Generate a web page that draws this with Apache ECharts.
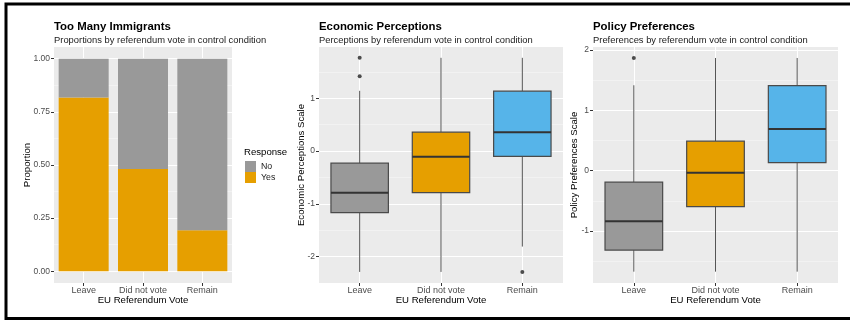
<!DOCTYPE html>
<html>
<head>
<meta charset="utf-8">
<title>EU referendum vote: immigration, economic perceptions and policy preferences</title>
<script src="https://cdn.jsdelivr.net/npm/echarts@6/dist/echarts.min.js"></script>
<style>
  html, body { margin: 0; padding: 0; background: #ffffff; }
  #chart { width: 850px; height: 320px; }
</style>
</head>
<body>
<div id="chart"></div>
<script>
// ---- data ----
const voteCats = ['Leave', 'Did not vote', 'Remain'];

// "Too many immigrants" response shares (control condition)
const yesShare = [0.817, 0.481, 0.193];
const noShare = [0.183, 0.519, 0.807];
const propTicks = [0, 0.25, 0.5, 0.75, 1];
const propTickLabels = ['0.00', '0.25', '0.50', '0.75', '1.00'];

// Box statistics per vote group: [lower whisker, Q1, median, Q3, upper whisker]
const econLeave = [-2.29, -1.166, -0.79, -0.23, 1.14];
const econDidNotVote = [-2.29, -0.79, -0.11, 0.356, 1.765];
const econRemain = [-1.81, -0.10, 0.356, 1.134, 1.765];
const econOutliers = [[0, 1.765], [0, 1.415], [2, -2.29]];
const econTicks = [-2, -1, 0, 1];

const policyLeave = [-1.672, -1.315, -0.836, -0.19, 1.416];
const policyDidNotVote = [-1.672, -0.596, -0.033, 0.49, 1.868];
const policyRemain = [-1.672, 0.134, 0.69, 1.41, 1.868];
const policyOutliers = [[0, 1.868]];
const policyTicks = [-1, 0, 1, 2];

// ---- styling ----
const FONT = '"Liberation Sans", Arial, Helvetica, sans-serif';
const PANEL_BG = '#EBEBEB';
const TICK_TXT = '#4D4D4D';
const boxFill = ['#999999', '#E69F00', '#56B4E9'];

const chart = echarts.init(document.getElementById('chart'), null, { renderer: 'canvas' });

const panels = [
  { left: 54, width: 178 },
  { left: 319, width: 244 },
  { left: 593, width: 245 }
];
const TOP = 47, HEIGHT = 236;

// minor breaks halfway between majors
function minorOf(ticks) {
  const out = [];
  for (let i = 0; i < ticks.length - 1; i++) out.push((ticks[i] + ticks[i + 1]) / 2);
  return out;
}
function withEnds(ticks, step) {
  return [ticks[0] - step / 2].concat(minorOf(ticks), [ticks[ticks.length - 1] + step / 2]);
}

const yRanges = [
  { min: -0.055, max: 1.055, ticks: propTicks, minor: minorOf(propTicks),
    fmt: v => propTickLabels[propTicks.indexOf(v)] ?? String(v), name: 'Proportion', gap: 22 },
  { min: -2.50, max: 1.97, ticks: econTicks, minor: withEnds(econTicks, 1).filter(v => v > -2.5 && v < 1.97),
    fmt: v => String(v), name: 'Economic Perceptions Scale', gap: 13 },
  { min: -1.86, max: 2.05, ticks: policyTicks, minor: withEnds(policyTicks, 1).filter(v => v > -1.86 && v < 2.05),
    fmt: v => String(v), name: 'Policy Preferences Scale', gap: 14 }
];

const grids = [], xAxes = [], yAxes = [];
panels.forEach((p, i) => {
  grids.push({
    left: p.left, top: TOP, width: p.width, height: HEIGHT,
    show: true, backgroundColor: PANEL_BG, borderWidth: 0
  });
  // visible category axis
  xAxes.push({
    type: 'category', gridIndex: i, data: voteCats, position: 'bottom',
    axisLine: { show: false, onZero: false },
    axisTick: { show: true, alignWithLabel: true, length: 3, lineStyle: { color: '#333333' } },
    axisLabel: { interval: 0, hideOverlap: false, color: TICK_TXT, fontSize: 9, fontFamily: FONT, margin: 3 },
    splitLine: { show: false },
    name: 'EU Referendum Vote', nameLocation: 'middle', nameGap: 12, nameMoveOverlap: false,
    nameTextStyle: { color: '#000000', fontSize: 9.6, fontFamily: FONT }
  });
  // vertical grid lines at category centres
  xAxes.push({
    type: 'value', gridIndex: i, min: -0.5, max: 2.5, position: 'top',
    axisLine: { show: false, onZero: false }, axisLabel: { show: false },
    axisTick: { show: false, customValues: [0, 1, 2] },
    splitLine: { show: true, lineStyle: { color: '#FFFFFF', width: 1 } }
  });
  const r = yRanges[i];
  // visible value axis with major grid
  yAxes.push({
    type: 'value', gridIndex: i, min: r.min, max: r.max, position: 'left',
    axisLine: { show: false, onZero: false },
    axisTick: { show: true, length: 3, customValues: r.ticks, lineStyle: { color: '#333333' } },
    axisLabel: { customValues: r.ticks, formatter: r.fmt, color: TICK_TXT, fontSize: 8.5, fontFamily: FONT, margin: 4 },
    splitLine: { show: true, lineStyle: { color: '#FFFFFF', width: 1.1 } },
    name: r.name, nameLocation: 'middle', nameGap: r.gap, nameMoveOverlap: false,
    nameTextStyle: { color: '#000000', fontSize: 9.6, fontFamily: FONT }
  });
  // minor horizontal grid
  yAxes.push({
    type: 'value', gridIndex: i, min: r.min, max: r.max, position: 'right',
    axisLine: { show: false, onZero: false }, axisLabel: { show: false },
    axisTick: { show: false, customValues: r.minor },
    splitLine: { show: true, lineStyle: { color: '#F7F7F7', width: 0.6 } }
  });
});

// box-and-whisker drawn through the axes' coordinate system
function boxSeries(name, rows, panelIndex) {
  return {
    name: name, type: 'custom',
    xAxisIndex: panelIndex * 2, yAxisIndex: panelIndex * 2,
    data: rows.map((s, k) => [k].concat(s)),
    encode: { x: 0, y: [1, 2, 3, 4, 5] },
    z: 3,
    renderItem: function (params, api) {
      const k = api.value(0);
      const band = api.size([1, 0])[0];
      const halfW = band * 0.353;
      const lo = api.coord([k, api.value(1)]);
      const q1 = api.coord([k, api.value(2)]);
      const md = api.coord([k, api.value(3)]);
      const q3 = api.coord([k, api.value(4)]);
      const hi = api.coord([k, api.value(5)]);
      const cx = lo[0];
      const whisker = { stroke: '#555555', lineWidth: 1 };
      return {
        type: 'group',
        children: [
          { type: 'line', shape: { x1: cx, y1: hi[1], x2: cx, y2: q3[1] }, style: whisker },
          { type: 'line', shape: { x1: cx, y1: q1[1], x2: cx, y2: lo[1] }, style: whisker },
          { type: 'rect', shape: { x: cx - halfW, y: q3[1], width: halfW * 2, height: q1[1] - q3[1] },
            style: { fill: boxFill[k], stroke: '#4A4A4A', lineWidth: 1.2 } },
          { type: 'line', shape: { x1: cx - halfW, y1: md[1], x2: cx + halfW, y2: md[1] },
            style: { stroke: '#333333', lineWidth: 2 } }
        ]
      };
    }
  };
}

function outlierSeries(name, pts, panelIndex) {
  return {
    name: name, type: 'scatter',
    xAxisIndex: panelIndex * 2, yAxisIndex: panelIndex * 2,
    data: pts, symbol: 'circle', symbolSize: 4, z: 4,
    itemStyle: { color: '#222222' }, silent: true
  };
}

const panelTitle = { fontSize: 11.4, fontWeight: 'bold', color: '#000000', fontFamily: FONT };
const panelSub = { fontSize: 9.4, color: '#1A1A1A', fontFamily: FONT };

const option = {
  animation: false,
  backgroundColor: '#FFFFFF',
  textStyle: { fontFamily: FONT },
  title: [
    { text: 'Too Many Immigrants', subtext: 'Proportions by referendum vote in control condition',
      left: 54, top: 21, itemGap: 4, padding: 0, textStyle: panelTitle, subtextStyle: panelSub },
    { text: 'Economic Perceptions', subtext: 'Perceptions by referendum vote in control condition',
      left: 319, top: 21, itemGap: 4, padding: 0, textStyle: panelTitle, subtextStyle: panelSub },
    { text: 'Policy Preferences', subtext: 'Preferences by referendum vote in control condition',
      left: 593, top: 21, itemGap: 4, padding: 0, textStyle: panelTitle, subtextStyle: panelSub },
    { text: 'Response', left: 244, top: 147, padding: 0,
      textStyle: { fontSize: 9.6, fontWeight: 'normal', color: '#000000', fontFamily: FONT } }
  ],
  legend: {
    data: ['No', 'Yes'], orient: 'vertical', left: 245, top: 161,
    icon: 'rect', itemWidth: 11, itemHeight: 11, itemGap: 0, padding: 0,
    textStyle: { fontSize: 8.8, color: '#1A1A1A', fontFamily: FONT },
    selectedMode: false
  },
  grid: grids,
  xAxis: xAxes,
  yAxis: yAxes,
  graphic: [
    { type: 'rect', silent: true, z: 100,
      shape: { x: 6, y: 4, width: 900, height: 314.5 },
      style: { fill: 'none', stroke: '#000000', lineWidth: 3 } }
  ],
  series: [
    { name: 'Yes', type: 'bar', stack: 'resp', xAxisIndex: 0, yAxisIndex: 0,
      data: yesShare, barWidth: 50, itemStyle: { color: '#E69F00' } },
    { name: 'No', type: 'bar', stack: 'resp', xAxisIndex: 0, yAxisIndex: 0,
      data: noShare, barWidth: 50, itemStyle: { color: '#999999' } },
    boxSeries('Economic', [econLeave, econDidNotVote, econRemain], 1),
    outlierSeries('Economic outliers', econOutliers, 1),
    boxSeries('Policy', [policyLeave, policyDidNotVote, policyRemain], 2),
    outlierSeries('Policy outliers', policyOutliers, 2)
  ]
};

chart.setOption(option);
</script>
</body>
</html>
